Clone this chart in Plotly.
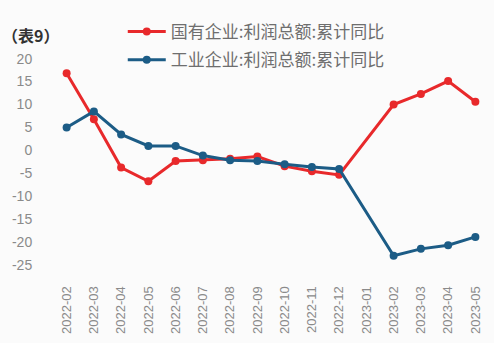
import plotly.graph_objects as go

# Monthly categories (cumulative y/y, %)
months = ["2022-02", "2022-03", "2022-04", "2022-05", "2022-06", "2022-07",
          "2022-08", "2022-09", "2022-10", "2022-11", "2022-12", "2023-01",
          "2023-02", "2023-03", "2023-04", "2023-05"]

soe_profit = [16.8, 6.8, -3.7, -6.7, -2.3, -2.1, -1.8, -1.3, -3.4, -4.5, -5.3, None,
              10.0, 12.3, 15.1, 10.6]
industrial_profit = [5.0, 8.5, 3.5, 1.0, 1.0, -1.1, -2.1, -2.3, -3.0, -3.6, -4.0, None,
                     -22.9, -21.4, -20.6, -18.8]

soe_name = "国有企业:利润总额:累计同比"
ind_name = "工业企业:利润总额:累计同比"

y_ticks = [20, 15, 10, 5, 0, -5, -10, -15, -20, -25]

RED = "#e8292b"
BLUE = "#1c5c86"
FONT = "Liberation Sans, Arial, Noto Sans CJK SC, sans-serif"

fig = go.Figure()
fig.add_trace(go.Scatter(
    x=months, y=soe_profit, name=soe_name, mode="lines+markers",
    connectgaps=True, legendgroup="soe",
    line=dict(color=RED, width=3),
    marker=dict(color=RED, size=8, symbol="circle"),
))
fig.add_trace(go.Scatter(
    x=months, y=industrial_profit, name=ind_name, mode="lines+markers",
    connectgaps=True, legendgroup="ind",
    line=dict(color=BLUE, width=3),
    marker=dict(color=BLUE, size=8, symbol="circle"),
))

fig.add_annotation(
    text="<b>（表9）</b>", xref="paper", yref="paper",
    x=-0.1, y=1.0, xanchor="left", yanchor="middle",
    xshift=-9, yshift=19,
    showarrow=False,
    font=dict(family="Noto Sans CJK SC, sans-serif", size=16, color="#333333"),
)

fig.update_layout(
    width=494, height=343,
    margin=dict(l=53, r=5, t=54, b=73, autoexpand=False),
    paper_bgcolor="#fbfbfb", plot_bgcolor="#fbfbfb",
    font=dict(family=FONT, color="#8a8a8a"),
    showlegend=True,
    legend=dict(
        x=0.16, xanchor="left", y=0.959, yref="container", yanchor="top",
        bgcolor="rgba(0,0,0,0)",
        font=dict(family="Noto Sans CJK SC, sans-serif", size=17, color="#6e6e6e"),
        tracegroupgap=3, itemwidth=38,
    ),
    xaxis=dict(
        type="category", categoryorder="array", categoryarray=months,
        range=[-0.5, 15.5],
        showgrid=False, zeroline=False, showline=False,
        tickangle=-90, tickfont=dict(size=13, color="#8a8a8a"),
        ticks="outside", ticklen=10, tickcolor="rgba(0,0,0,0)",
    ),
    yaxis=dict(
        range=[-26, 21], tickvals=y_ticks, ticktext=[str(v) for v in y_ticks],
        showgrid=False, zeroline=False, showline=False,
        tickfont=dict(size=14, color="#8a8a8a"),
        ticks="outside", ticklen=17, tickcolor="rgba(0,0,0,0)",
    ),
)

fig.write_html("out.html")
